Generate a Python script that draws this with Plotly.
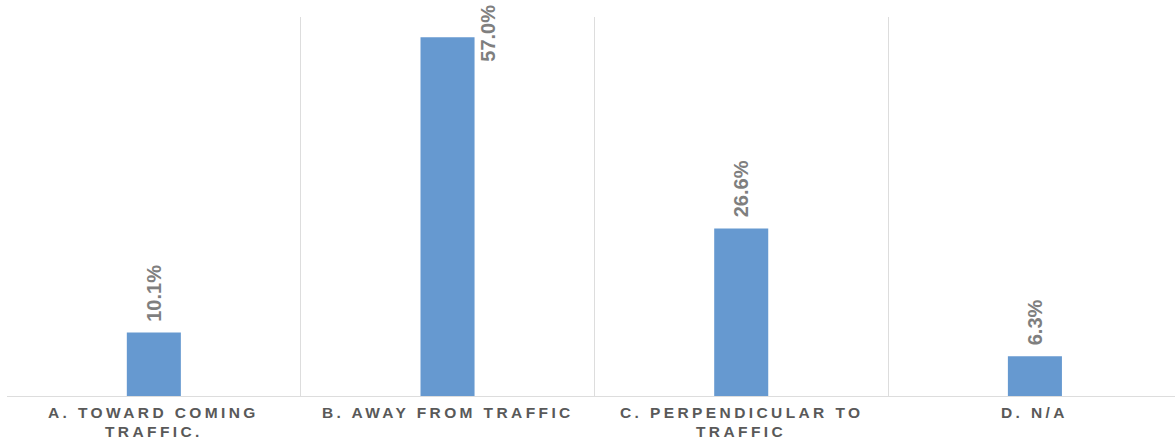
import plotly.graph_objects as go

# Categories and shares (%)
categories = ["A", "B", "C", "D"]
category_labels = [
    ["A. TOWARD COMING", "TRAFFIC."],
    ["B. AWAY FROM TRAFFIC"],
    ["C. PERPENDICULAR TO", "TRAFFIC"],
    ["D. N/A"],
]
shares = [10.1, 57.0, 26.6, 6.3]

BAR_COLOR = "#6699D0"
LABEL_GRAY = "#7F7F7F"
AXIS_TEXT = "#595959"
GRID = "#DDDDDD"
FONT = "Liberation Sans, Arial, sans-serif"
LINE_PITCH = 18.5


def spaced(text, px=3.4):
    return f'<span style="letter-spacing:{px}px">{text}</span>'


fig = go.Figure(
    go.Bar(
        x=categories,
        y=shares,
        marker=dict(color=BAR_COLOR, line=dict(width=0)),
        hoverinfo="skip",
    )
)

# value labels, rotated, above each bar (the tallest one sits beside its top)
for cat, val in zip(categories, shares):
    if val == max(shares):
        fig.add_annotation(
            x=cat, y=val, text=f"<b>{val:.1f}%</b>", textangle=-90,
            showarrow=False, xanchor="center", yanchor="middle",
            xshift=41, yshift=4,
            font=dict(family=FONT, size=20, color=LABEL_GRAY),
        )
    else:
        fig.add_annotation(
            x=cat, y=val, text=f"<b>{val:.1f}%</b>", textangle=-90,
            showarrow=False, xanchor="center", yanchor="bottom",
            yshift=9,
            font=dict(family=FONT, size=20, color=LABEL_GRAY),
        )

# category labels under the axis, one annotation per line
for cat, lines in zip(categories, category_labels):
    for i, line in enumerate(lines):
        fig.add_annotation(
            x=cat, xref="x", y=0, yref="paper",
            text=f"<b>{spaced(line)}</b>",
            showarrow=False, xanchor="center", yanchor="top",
            yshift=-6 - i * LINE_PITCH,
            font=dict(family=FONT, size=15.5, color=AXIS_TEXT),
        )

fig.update_layout(
    width=1175,
    height=448,
    margin=dict(l=7, r=0, t=17, b=52),
    paper_bgcolor="white",
    plot_bgcolor="white",
    bargap=0.816,
    showlegend=False,
    xaxis=dict(
        type="category",
        range=[-0.5, 3.477],
        tickvals=categories,
        ticktext=[""] * len(categories),
        tickson="boundaries",
        ticks="",
        showticklabels=False,
        showgrid=True,
        gridcolor=GRID,
        gridwidth=1,
        showline=True,
        linecolor=GRID,
        linewidth=1,
        fixedrange=True,
    ),
    yaxis=dict(
        range=[0, 60.2],
        visible=False,
        showgrid=False,
        zeroline=False,
        fixedrange=True,
    ),
)

fig.write_html("out.html")
